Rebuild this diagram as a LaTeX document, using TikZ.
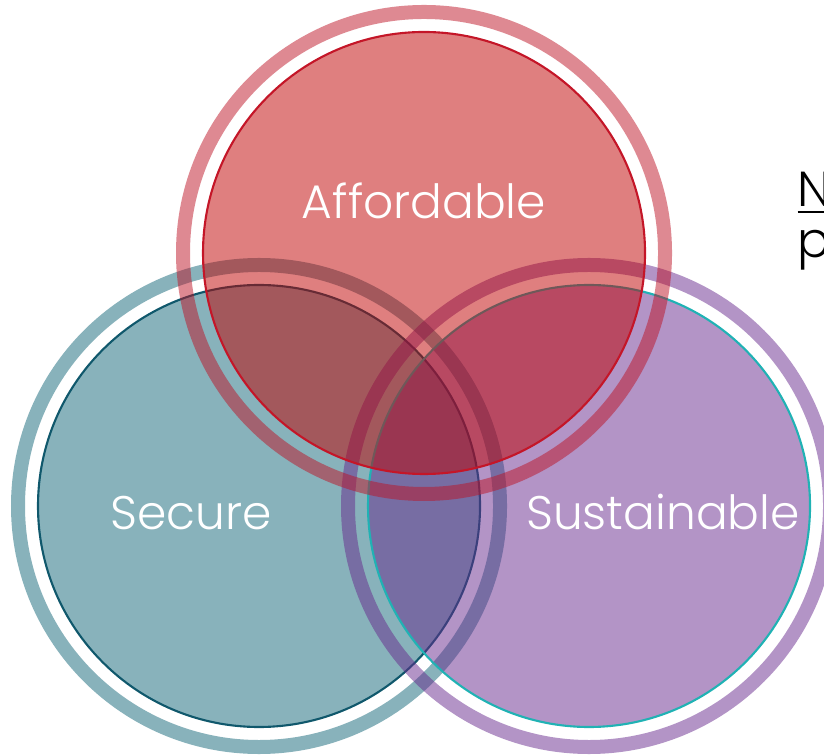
\documentclass[tikz,border=0pt]{standalone}
\usepackage{fontspec}
\setmainfont{Poppins}[UprightFont=* Light]
\usetikzlibrary{positioning}
\definecolor{affred}{RGB}{191,0,0}
\definecolor{affring}{RGB}{189,19,38}
\definecolor{affedge}{RGB}{196,22,40}
\definecolor{secteal}{RGB}{17,101,119}
\definecolor{secedge}{RGB}{16,88,108}
\definecolor{suspurple}{RGB}{103,41,141}
\definecolor{susedge}{RGB}{32,178,180}

\begin{document}
\begin{tikzpicture}[
    ring/.style={circle, draw, inner sep=0pt, minimum size=4.82cm, line width=0.14cm, draw opacity=0.5},
    disc/.style={circle, draw, inner sep=0pt, minimum size=4.42cm, line width=0.6pt, fill opacity=0.5},
    label/.style={font=\fontsize{13.4}{15}\selectfont, text=white, anchor=base},
    note/.style={font=\fontsize{14}{14.5}\selectfont, anchor=base west, inner sep=0pt}
]
    \useasboundingbox (0,0) rectangle (8.24,7.54);
    \clip (0,0) rectangle (8.24,7.54);

    % Secure
    \node[ring, draw=secteal] (secring) at (2.59, 2.48) {};
    \node[disc, fill=secteal, draw=secedge] (secure) at (2.59, 2.48) {};

    % Sustainable
    \node[ring, draw=suspurple] (susring) at (5.89, 2.48) {};
    \node[disc, fill=suspurple, draw=susedge] (sustainable) at (5.89, 2.48) {};

    % Affordable
    \node[ring, draw=affring] (affring) at (4.24, 5.01) {};
    \node[disc, fill=affred, draw=affedge] (affordable) at (4.24, 5.01) {};

    % Labels (placed on their baselines)
    \node[label] (afflabel) at (4.24, 5.35) {Affordable};
    \node[label] (seclabel) at (1.91, 2.25) {Secure};
    \node[label] (suslabel) at (6.63, 2.25) {Sustainable};

    % Side text, cut by the frame
    \node[note] (sidetop) at (7.97, 5.47) {\underline{N}};
    \node[note] (sidebot) at (7.97, 4.96) {p};
\end{tikzpicture}
\end{document}
